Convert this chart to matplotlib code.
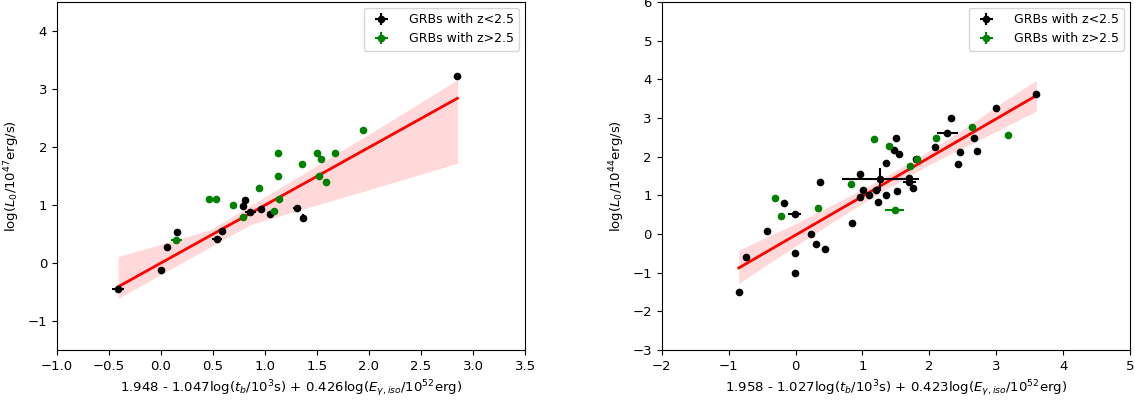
import matplotlib.pyplot as plt

plt.rcParams["font.size"] = 9.5

# ---- left panel data (10^47 erg/s)
left_low_x = [-0.41, 0.00, 0.06, 0.16, 0.54, 0.59, 0.79, 0.81, 0.86, 0.965, 1.05, 1.31, 1.37, 2.85]
left_low_y = [-0.44, -0.12, 0.27, 0.53, 0.41, 0.55, 0.98, 1.08, 0.875, 0.93, 0.85, 0.95, 0.78, 3.23]
left_low_xerr = [0.06, 0, 0, 0, 0.05, 0, 0, 0, 0.05, 0, 0, 0.04, 0.02, 0]
left_low_yerr = [0.02, 0, 0, 0, 0.02, 0, 0, 0, 0.02, 0, 0, 0.02, 0.07, 0]

left_high_x = [0.15, 0.46, 0.53, 0.69, 0.79, 0.945, 1.09, 1.13, 1.13, 1.14, 1.36, 1.50, 1.54, 1.52, 1.59, 1.67, 1.94]
left_high_y = [0.40, 1.10, 1.10, 1.00, 0.80, 1.30, 0.90, 1.90, 1.50, 1.10, 1.70, 1.90, 1.80, 1.50, 1.40, 1.90, 2.30]
left_high_xerr = [0.05, 0, 0, 0, 0, 0, 0, 0, 0, 0, 0, 0, 0, 0, 0, 0, 0]
left_high_yerr = [0.03, 0, 0, 0, 0, 0, 0, 0, 0, 0, 0, 0, 0, 0, 0, 0, 0]

left_fit_x = [-0.41, 2.85]
left_fit_y = [-0.41, 2.84]
left_band_x = [-0.41, 0.15, 0.47, 0.86, 1.5, 2.2, 2.85]
left_band_hi = [0.11, 0.40, 0.57, 0.99, 1.68, 2.44, 3.16]
left_band_lo = [-0.61, -0.05, 0.27, 0.66, 1.00, 1.37, 1.72]

# ---- right panel data (10^44 erg/s)
right_low_x = [-0.847, -0.737, -0.43, -0.17, -0.015, -0.015, -0.015, 0.23, 0.31, 0.37, 0.44,
               0.85, 0.96, 0.97, 1.01, 1.10, 1.20, 1.23, 1.27, 1.35, 1.36, 1.475, 1.50, 1.51,
               1.55, 1.69, 1.70, 1.75, 1.80, 2.08, 2.27, 2.32, 2.43, 2.46, 2.665, 2.71, 3.00, 3.60]
right_low_y = [-1.505, -0.60, 0.07, 0.79, 0.52, -0.50, -1.00, 0.00, -0.26, 1.34, -0.40,
               0.29, 0.95, 1.56, 1.15, 1.00, 1.135, 0.825, 1.41, 1.83, 1.02, 2.18, 2.49, 1.10,
               2.08, 1.44, 1.34, 1.19, 1.93, 2.25, 2.62, 2.99, 1.81, 2.12, 2.48, 2.15, 3.25, 3.63]
right_low_xerr = [0, 0, 0, 0, 0.10, 0, 0, 0, 0, 0, 0,
                  0, 0, 0, 0, 0, 0, 0, 0.57, 0, 0, 0, 0, 0,
                  0, 0, 0.10, 0, 0, 0, 0.16, 0, 0, 0, 0, 0, 0, 0]
right_low_yerr = [0, 0, 0, 0, 0.08, 0, 0, 0, 0, 0, 0,
                  0, 0, 0, 0, 0, 0, 0, 0.29, 0, 0, 0, 0, 0,
                  0, 0, 0.06, 0, 0, 0, 0.03, 0, 0, 0, 0, 0, 0, 0]

right_high_x = [-0.30, -0.21, 0.33, 0.83, 1.17, 1.40, 1.48, 1.71, 1.82, 2.10, 2.645, 3.18]
right_high_y = [0.94, 0.47, 0.66, 1.29, 2.46, 2.27, 0.62, 1.76, 1.94, 2.48, 2.77, 2.57]
right_high_xerr = [0, 0, 0, 0, 0, 0, 0.14, 0, 0, 0, 0, 0]
right_high_yerr = [0, 0, 0, 0, 0, 0, 0.03, 0, 0, 0, 0, 0]

right_fit_x = [-0.847, 3.60]
right_fit_y = [-0.877, 3.58]
right_band_x = [-0.85, 0.0, 0.7, 1.3, 2.0, 2.5, 3.0, 3.6]
right_band_hi = [-0.42, 0.27, 0.89, 1.44, 2.15, 2.70, 3.30, 3.98]
right_band_lo = [-1.28, -0.31, 0.47, 1.11, 1.79, 2.23, 2.65, 3.18]


def panel(ax, low, high, fit, band, xlim, ylim, xlabel, ylabel):
    ax.fill_between(band[0], band[1], band[2], color="red", alpha=0.15, lw=0)
    ax.plot(fit[0], fit[1], color="red", lw=2)
    ax.errorbar(low[0], low[1], xerr=low[2], yerr=low[3], fmt="o", color="k",
                ms=4.5, elinewidth=1.5, capsize=0, label="GRBs with z<2.5")
    ax.errorbar(high[0], high[1], xerr=high[2], yerr=high[3], fmt="o", color="g",
                ms=4.5, elinewidth=1.5, capsize=0, label="GRBs with z>2.5")
    ax.set_xlim(*xlim)
    ax.set_ylim(*ylim)
    ax.set_xlabel(xlabel)
    ax.set_ylabel(ylabel)
    ax.legend(loc="upper right", fontsize=9, handletextpad=1.2)


fig = plt.figure(figsize=(11.35, 4.0), dpi=100)
ax1 = fig.add_axes([0.050, 0.125, 0.4126, 0.87])
ax2 = fig.add_axes([0.583, 0.125, 0.4126, 0.87])

panel(ax1,
      (left_low_x, left_low_y, left_low_xerr, left_low_yerr),
      (left_high_x, left_high_y, left_high_xerr, left_high_yerr),
      (left_fit_x, left_fit_y),
      (left_band_x, left_band_lo, left_band_hi),
      (-1.0, 3.5), (-1.5, 4.5),
      r"1.948 - 1.047log($t_b$/10$^3$s) + 0.426log($E_{\gamma,iso}$/10$^{52}$erg)",
      r"log($L_0$/10$^{47}$erg/s)")

panel(ax2,
      (right_low_x, right_low_y, right_low_xerr, right_low_yerr),
      (right_high_x, right_high_y, right_high_xerr, right_high_yerr),
      (right_fit_x, right_fit_y),
      (right_band_x, right_band_lo, right_band_hi),
      (-2, 5), (-3, 6),
      r"1.958 - 1.027log($t_b$/10$^3$s) + 0.423log($E_{\gamma,iso}$/10$^{52}$erg)",
      r"log($L_0$/10$^{44}$erg/s)")

fig.savefig("out.png", dpi=100)
plt.close(fig)
